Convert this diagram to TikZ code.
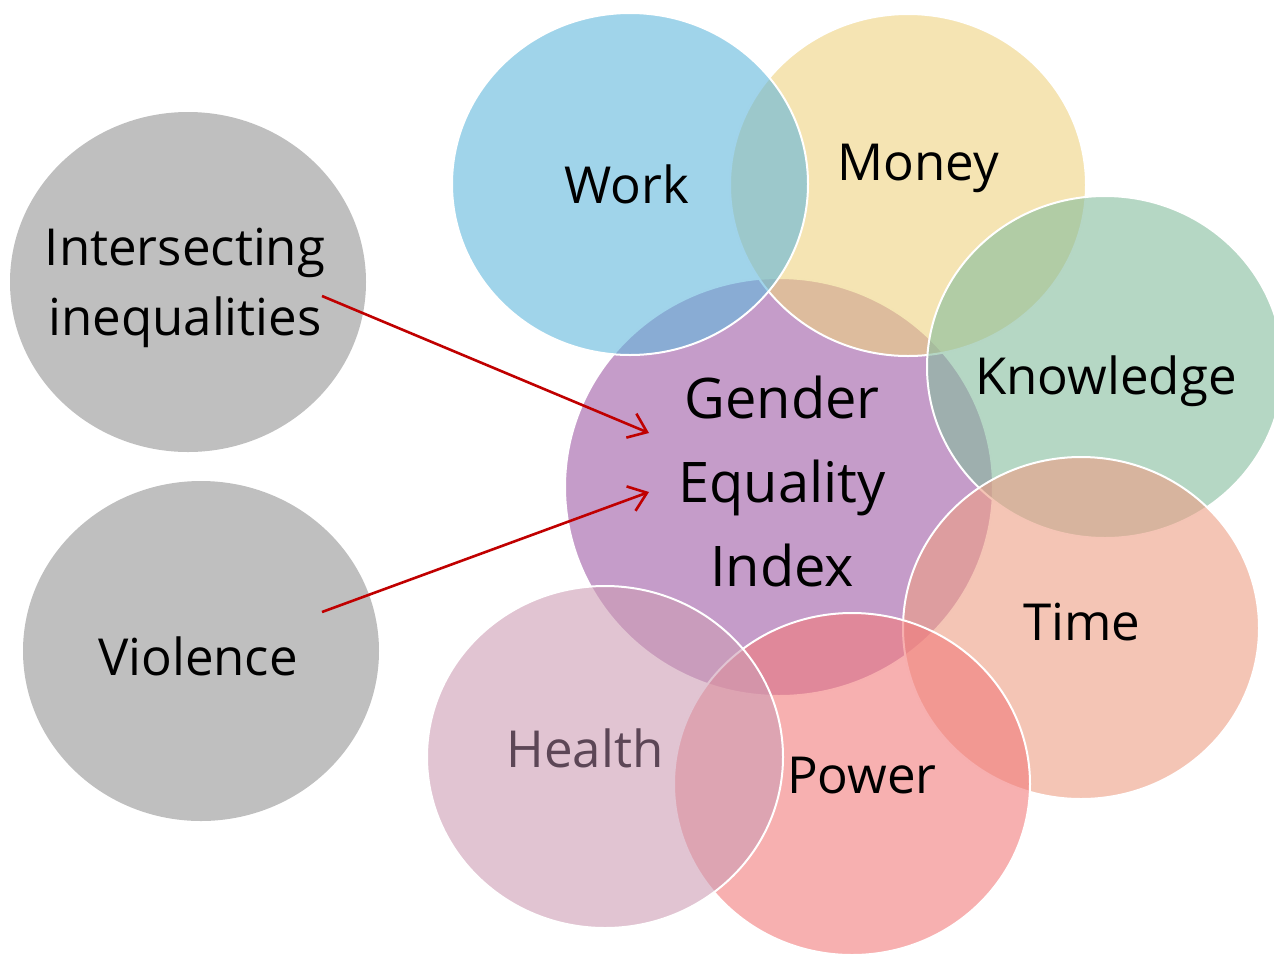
\documentclass[tikz,border=0pt]{standalone}
\usepackage{fontspec}
\setmainfont{Open Sans}
\usetikzlibrary{shapes.geometric,arrows.meta}
\definecolor{cWork}{RGB}{97,183,220}
\definecolor{cMoney}{RGB}{238,210,128}
\definecolor{cKnow}{RGB}{132,188,157}
\definecolor{cGEI}{RGB}{197,156,201}
\definecolor{cTime}{RGB}{237,158,132}
\definecolor{cHealth}{RGB}{205,157,180}
\definecolor{cPower}{RGB}{242,123,123}
\definecolor{cGray}{RGB}{191,191,191}
\definecolor{cArrow}{RGB}{192,0,0}
\definecolor{cHealthTxt}{RGB}{92,70,86}
\begin{document}
\begin{tikzpicture}[x=1pt,y=-1pt,
  blob/.style={ellipse, draw=white, line width=2pt, fill opacity=0.6, inner sep=0pt, minimum width=356pt, minimum height=342pt},
  grayblob/.style={ellipse, fill=cGray, inner sep=0pt, minimum width=356pt, minimum height=340pt},
  lbl/.style={font=\fontsize{51}{70}\selectfont, text=black, align=center, anchor=base, inner sep=0pt},
  arr/.style={draw=cArrow, line width=2.6pt, -{Straight Barb[length=17pt,width=26pt]}}]
\useasboundingbox (0,0) rectangle (1274,954);
% circles
\node[grayblob] (ineqC) at (188,282) {};
\node[grayblob] (violC) at (201,651) {};
\node[ellipse, fill=cGEI, draw=white, line width=2pt, inner sep=0pt, minimum width=428pt, minimum height=418pt] (gei) at (779,487) {};
\node[blob, fill=cMoney] (money) at (908,185) {};
\node[blob, fill=cWork] (work) at (630,184) {};
\node[blob, fill=cKnow] (know) at (1105,367) {};
\node[blob, fill=cTime] (time) at (1081,628) {};
\node[blob, fill=cPower] (power) at (852,784) {};
\node[blob, fill=cHealth] (health) at (605,757) {};
% labels
\node[lbl] (ineqT) at (185,335) {Intersecting\\inequalities};
\node[lbl] (violT) at (198,675) {Violence};
\node[lbl] (workT) at (627,203) {Work};
\node[lbl] (moneyT) at (918,180) {Money};
\node[lbl] (knowT) at (1106,394) {Knowledge};
\node[lbl, font=\fontsize{56}{84}\selectfont] (geiT) at (782,586) {Gender\\Equality\\Index};
\node[lbl] (timeT) at (1082,640) {Time};
\node[lbl, text=cHealthTxt] (healthT) at (585,767) {Health};
\node[lbl] (powerT) at (862,793) {Power};
% arrows
\coordinate (a1s) at (322,296);
\coordinate (a1e) at (649,433);
\coordinate (a2s) at (322,612);
\coordinate (a2e) at (649,492);
\draw[arr] (a1s) -- (a1e);
\draw[arr] (a2s) -- (a2e);
\end{tikzpicture}
\end{document}
